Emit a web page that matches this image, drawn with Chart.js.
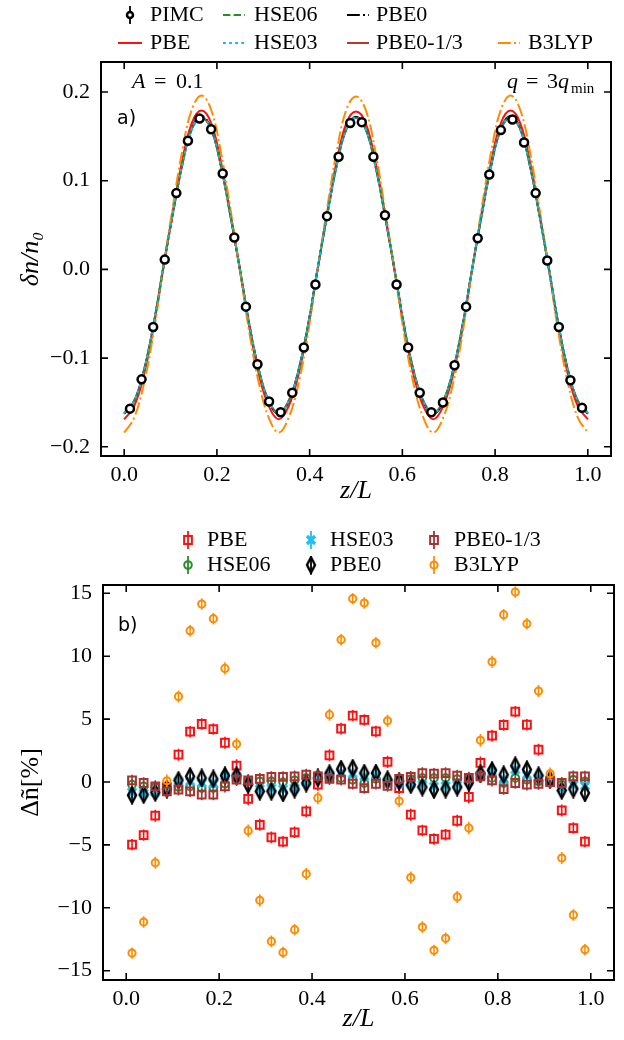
<!DOCTYPE html>
<html>
<head>
<meta charset="utf-8">
<script src="https://cdn.jsdelivr.net/npm/chart.js@4.4.1/dist/chart.umd.min.js"></script>
<style>
  body { margin: 0; background: #fff; }
  #wrap { position: relative; width: 624px; height: 1040px; }
  canvas { position: absolute; left: 0; }
</style>
</head>
<body>
<div id="wrap">
  <canvas id="chartA" width="624" height="512" style="top:0px"></canvas>
  <canvas id="chartB" width="624" height="528" style="top:512px"></canvas>
</div>
<script>
// ---- panel a: density curves, z grid of 1/48 ----
const zGrid = [0, 0.02083, 0.04167, 0.0625, 0.08333, 0.10417, 0.125, 0.14583, 0.16667, 0.1875, 0.20833, 0.22917,
  0.25, 0.27083, 0.29167, 0.3125, 0.33333, 0.35417, 0.375, 0.39583, 0.41667, 0.4375, 0.45833, 0.47917,
  0.5, 0.52083, 0.54167, 0.5625, 0.58333, 0.60417, 0.625, 0.64583, 0.66667, 0.6875, 0.70833, 0.72917,
  0.75, 0.77083, 0.79167, 0.8125, 0.83333, 0.85417, 0.875, 0.89583, 0.91667, 0.9375, 0.95833, 0.97917, 1];

const curvePBE = [-0.169, -0.155, -0.121, -0.068, -0.002, 0.063, 0.122, 0.165, 0.179, 0.165, 0.122, 0.063,
  -0.002, -0.068, -0.121, -0.155, -0.169, -0.155, -0.121, -0.068, -0.002, 0.063, 0.122, 0.165,
  0.178, 0.165, 0.122, 0.063, -0.002, -0.068, -0.121, -0.155, -0.169, -0.155, -0.121, -0.068,
  -0.002, 0.063, 0.122, 0.165, 0.179, 0.165, 0.122, 0.063, -0.002, -0.068, -0.121, -0.155, -0.169];
const curveHSE06 = [-0.162, -0.149, -0.116, -0.065, -0.001, 0.061, 0.117, 0.158, 0.172, 0.158, 0.117, 0.061,
  -0.001, -0.065, -0.116, -0.149, -0.162, -0.149, -0.116, -0.065, -0.001, 0.061, 0.117, 0.158,
  0.171, 0.158, 0.117, 0.061, -0.001, -0.065, -0.116, -0.149, -0.162, -0.149, -0.116, -0.065,
  -0.001, 0.061, 0.117, 0.158, 0.172, 0.158, 0.117, 0.061, -0.001, -0.065, -0.116, -0.149, -0.162];
const curveHSE03 = [-0.162, -0.149, -0.116, -0.065, -0.001, 0.061, 0.117, 0.158, 0.172, 0.158, 0.117, 0.061,
  -0.001, -0.065, -0.116, -0.149, -0.162, -0.149, -0.116, -0.065, -0.001, 0.061, 0.117, 0.158,
  0.171, 0.158, 0.117, 0.061, -0.001, -0.065, -0.116, -0.149, -0.162, -0.149, -0.116, -0.065,
  -0.001, 0.061, 0.117, 0.158, 0.172, 0.158, 0.117, 0.061, -0.001, -0.065, -0.116, -0.149, -0.162];
const curvePBE0 = [-0.163, -0.150, -0.116, -0.065, -0.001, 0.061, 0.118, 0.159, 0.173, 0.159, 0.118, 0.061,
  -0.001, -0.065, -0.116, -0.150, -0.163, -0.150, -0.116, -0.065, -0.001, 0.061, 0.118, 0.159,
  0.172, 0.159, 0.118, 0.061, -0.001, -0.065, -0.116, -0.150, -0.163, -0.150, -0.116, -0.065,
  -0.001, 0.061, 0.118, 0.159, 0.173, 0.159, 0.118, 0.061, -0.001, -0.065, -0.116, -0.150, -0.163];
const curvePBE013 = [-0.162, -0.149, -0.116, -0.065, -0.001, 0.060, 0.117, 0.158, 0.171, 0.158, 0.117, 0.060,
  -0.001, -0.065, -0.116, -0.149, -0.162, -0.149, -0.116, -0.065, -0.001, 0.060, 0.117, 0.158,
  0.171, 0.158, 0.117, 0.060, -0.001, -0.065, -0.116, -0.149, -0.162, -0.149, -0.116, -0.065,
  -0.001, 0.060, 0.117, 0.158, 0.171, 0.158, 0.117, 0.060, -0.001, -0.065, -0.116, -0.149, -0.162];
const curveB3LYP = [-0.184, -0.168, -0.131, -0.074, -0.002, 0.068, 0.133, 0.180, 0.196, 0.180, 0.133, 0.068,
  -0.002, -0.074, -0.131, -0.168, -0.184, -0.168, -0.131, -0.074, -0.002, 0.068, 0.133, 0.180,
  0.195, 0.180, 0.133, 0.068, -0.002, -0.074, -0.131, -0.168, -0.184, -0.168, -0.131, -0.074,
  -0.002, 0.068, 0.133, 0.180, 0.196, 0.180, 0.133, 0.068, -0.002, -0.074, -0.131, -0.168, -0.184];

// ---- PIMC points and deviations, z = bin centres ----
const zBins = [0.0125, 0.0375, 0.0625, 0.0875, 0.1125, 0.1375, 0.1625, 0.1875, 0.2125, 0.2375,
  0.2625, 0.2875, 0.3125, 0.3375, 0.3625, 0.3875, 0.4125, 0.4375, 0.4625, 0.4875,
  0.5125, 0.5375, 0.5625, 0.5875, 0.6125, 0.6375, 0.6625, 0.6875, 0.7125, 0.7375,
  0.7625, 0.7875, 0.8125, 0.8375, 0.8625, 0.8875, 0.9125, 0.9375, 0.9625, 0.9875];

const pimc = [-0.157, -0.124, -0.065, 0.011, 0.086, 0.145, 0.170, 0.158, 0.108, 0.036,
  -0.042, -0.107, -0.149, -0.161, -0.139, -0.088, -0.017, 0.060, 0.127, 0.165,
  0.166, 0.127, 0.061, -0.017, -0.088, -0.139, -0.161, -0.150, -0.108, -0.042,
  0.035, 0.107, 0.157, 0.169, 0.143, 0.086, 0.010, -0.065, -0.125, -0.156];

const devPBE = [-4.98, -4.22, -2.68, -0.40, 2.17, 4.00, 4.61, 4.21, 3.12, 1.30,
  -1.35, -3.40, -4.40, -4.74, -4.00, -2.33, -0.20, 2.12, 4.24, 5.27,
  4.93, 4.02, 1.60, -0.48, -2.60, -3.85, -4.53, -4.19, -3.08, -1.19,
  1.52, 3.68, 4.53, 5.59, 4.55, 2.57, 0.10, -2.26, -3.66, -4.74];
const devHSE06 = [-0.21, -0.35, -0.40, -0.48, -0.40, -0.35, -0.48, -0.48, -0.14, 0.32,
  0.05, 0.05, 0.05, -0.03, 0.13, 0.32, 0.32, 0.32, 0.32, 0.18,
  -0.08, 0.24, -0.08, 0.18, 0.24, 0.32, 0.32, 0.32, 0.24, 0.24,
  0.45, 0.32, -0.08, 0.32, 0.18, 0.05, 0.18, -0.21, 0.18, 0.05];
const devHSE03 = [-0.80, -0.88, -0.80, -0.60, 0.05, 0.05, -0.08, -0.12, 0.45, 0.45,
  0.05, -0.55, -0.48, -0.55, -0.48, 0.00, 0.45, 0.58, 0.71, 0.66,
  0.45, 0.50, -0.08, -0.08, -0.14, -0.21, -0.35, -0.30, -0.21, 0.05,
  0.50, 0.84, 0.18, 0.98, 0.58, 0.32, 0.13, -0.48, -0.21, -0.30];
const devPBE0 = [-1.05, -1.00, -0.83, -0.56, 0.13, 0.45, 0.32, 0.24, 0.50, 0.50,
  -0.20, -0.74, -0.74, -0.87, -0.56, -0.08, 0.32, 0.66, 1.03, 1.10,
  0.71, 0.71, 0.18, 0.05, -0.21, -0.40, -0.61, -0.56, -0.40, -0.03,
  0.66, 0.92, 0.58, 1.30, 0.98, 0.50, 0.18, -0.67, -0.56, -0.87];
const devPBE013 = [0.13, -0.08, -0.35, -0.74, -0.60, -0.74, -1.01, -1.00, -0.35, 0.18,
  0.13, 0.24, 0.40, 0.40, 0.45, 0.58, 0.45, 0.24, 0.18, -0.14,
  -0.48, -0.14, -0.30, 0.24, 0.40, 0.71, 0.66, 0.71, 0.50, 0.32,
  0.45, 0.13, -0.56, -0.08, -0.21, -0.14, 0.00, -0.08, 0.45, 0.45];
const devB3LYP = [-13.60, -11.13, -6.42, 0.10, 6.80, 12.03, 14.15, 12.98, 9.03, 3.02,
  -3.87, -9.41, -12.67, -13.55, -11.74, -7.31, -1.27, 5.35, 11.31, 14.57,
  14.23, 11.07, 4.87, -1.51, -7.60, -11.53, -13.38, -12.43, -9.14, -3.66,
  3.31, 9.56, 13.30, 15.10, 12.58, 7.23, 0.66, -6.04, -10.57, -13.33];
const devErr = [0.45, 0.45, 0.48, 0.50, 0.48, 0.46, 0.45, 0.46, 0.48, 0.50,
  0.50, 0.48, 0.46, 0.45, 0.46, 0.48, 0.50, 0.48, 0.46, 0.45,
  0.45, 0.46, 0.48, 0.50, 0.48, 0.46, 0.45, 0.46, 0.48, 0.50,
  0.50, 0.48, 0.46, 0.45, 0.46, 0.48, 0.50, 0.48, 0.46, 0.45];

// ---- ticks ----
const xTicks = [0, 0.2, 0.4, 0.6, 0.8, 1.0];
const yTicksA = [-0.2, -0.1, 0, 0.1, 0.2];
const yTicksB = [-15, -10, -5, 0, 5, 10, 15];

const SERIF = '"Liberation Serif", "DejaVu Serif", serif';
Chart.defaults.font.family = SERIF;
Chart.defaults.color = '#000';

const pts = (xs, ys) => ys.map((v, i) => ({ x: xs[i], y: v }));
function fmt(v, d) {
  const s = Math.abs(v).toFixed(d);
  return (v < -1e-9 ? '\u2212' : '') + s;
}

// custom marker glyphs
function thinDiamond(color) {
  const c = document.createElement('canvas');
  c.width = 12; c.height = 19;
  const g = c.getContext('2d');
  g.strokeStyle = color; g.lineWidth = 2.4;
  g.beginPath();
  g.moveTo(6, 1.8); g.lineTo(10, 9.5); g.lineTo(6, 17.2); g.lineTo(2, 9.5);
  g.closePath(); g.stroke();
  return c;
}
function filledX(color) {
  const c = document.createElement('canvas');
  c.width = 12; c.height = 12;
  const g = c.getContext('2d');
  g.strokeStyle = color; g.lineWidth = 3.4;
  g.beginPath();
  g.moveTo(2, 2); g.lineTo(10, 10); g.moveTo(10, 2); g.lineTo(2, 10);
  g.stroke();
  return c;
}

// frame with inward ticks on all four sides
const frameTicks = {
  id: 'frameTicks',
  afterDatasetsDraw(chart) {
    const { ctx, chartArea: a, scales: { x, y } } = chart;
    ctx.save();
    ctx.strokeStyle = '#000';
    ctx.lineWidth = 1.6;
    ctx.beginPath();
    x.ticks.forEach(t => {
      const px = x.getPixelForValue(t.value);
      ctx.moveTo(px, a.bottom); ctx.lineTo(px, a.bottom - 7);
      ctx.moveTo(px, a.top); ctx.lineTo(px, a.top + 7);
    });
    y.ticks.forEach(t => {
      const py = y.getPixelForValue(t.value);
      ctx.moveTo(a.left, py); ctx.lineTo(a.left + 7, py);
      ctx.moveTo(a.right, py); ctx.lineTo(a.right - 7, py);
    });
    ctx.stroke();
    ctx.lineWidth = 2;
    ctx.strokeRect(a.left, a.top, a.right - a.left, a.bottom - a.top);
    ctx.restore();
  }
};

// vertical error bars drawn under each dataset's markers
const errorBars = {
  id: 'errorBars',
  beforeDatasetDraw(chart, args) {
    const ds = chart.data.datasets[args.index];
    if (!ds.errors) return;
    const { ctx } = chart;
    const ys = chart.scales.y;
    ctx.save();
    ctx.strokeStyle = ds.borderColor;
    ctx.lineWidth = 1.6;
    ctx.beginPath();
    args.meta.data.forEach((el, i) => {
      const v = ds.data[i].y, e = ds.errors[i];
      ctx.moveTo(el.x, ys.getPixelForValue(v - e));
      ctx.lineTo(el.x, ys.getPixelForValue(v + e));
    });
    ctx.stroke();
    ctx.restore();
  }
};

// column-major legend like the original figure
const colLegend = {
  id: 'colLegend',
  afterDraw(chart, args, opts) {
    const { ctx } = chart;
    ctx.save();
    chart.data.datasets.forEach(ds => {
      const col = opts.cols[ds.slot[0]], y = opts.rows[ds.slot[1]];
      const cx = (col.h0 + col.h1) / 2;
      if (ds.showLine === false) {
        ctx.setLineDash([]);
        ctx.strokeStyle = ds.borderColor;
        ctx.lineWidth = 1.8;
        ctx.beginPath(); ctx.moveTo(cx, y - 9); ctx.lineTo(cx, y + 9); ctx.stroke();
        ctx.fillStyle = ds.pointBackgroundColor;
        ctx.strokeStyle = ds.borderColor;
        ctx.lineWidth = ds.pointBorderWidth;
        Chart.helpers.drawPoint(ctx, {
          pointStyle: ds.pointStyle, radius: ds.legendRadius || ds.pointRadius,
          borderWidth: ds.pointBorderWidth, rotation: 0
        }, cx, y);
      } else {
        ctx.strokeStyle = ds.borderColor;
        ctx.lineWidth = ds.borderWidth;
        ctx.setLineDash(ds.borderDash || []);
        ctx.beginPath(); ctx.moveTo(col.h0, y); ctx.lineTo(col.h1, y); ctx.stroke();
      }
      ctx.setLineDash([]);
      ctx.fillStyle = '#000';
      ctx.font = '22px ' + SERIF;
      ctx.textBaseline = 'middle';
      ctx.textAlign = 'left';
      ctx.fillText(ds.label, col.text, y);
    });
    ctx.restore();
  }
};

// in-plot text notes (mixed italic / upright like mathtext)
const notes = {
  id: 'notes',
  afterDraw(chart, args, opts) {
    const { ctx } = chart;
    ctx.save();
    ctx.fillStyle = '#000';
    ctx.textAlign = 'left';
    (opts.items || []).forEach(it => {
      ctx.font = it.font;
      ctx.textBaseline = it.base || 'alphabetic';
      ctx.fillText(it.t, it.x, it.y);
    });
    ctx.restore();
  }
};

const tickFont = { family: SERIF, size: 22 };
const titleFont = { family: SERIF, size: 26, style: 'italic' };

function axisX(height) {
  return {
    type: 'linear', min: -0.05, max: 1.05,
    grid: { display: false, drawTicks: false }, border: { display: false },
    afterBuildTicks: s => { s.ticks = xTicks.map(v => ({ value: v })); },
    afterFit: s => { s.height = height; },
    ticks: { padding: 6, font: tickFont, maxRotation: 0, autoSkip: false, callback: v => fmt(v, 1) },
    title: { display: true, text: 'z/L', font: titleFont, padding: { top: 0, bottom: 5 } }
  };
}

// ---- panel a ----
let chartA = null;
function renderPanelA() {
  const ctx = document.getElementById('chartA').getContext('2d');
  const line = (label, data, color, dash, order, slot) => ({
    type: 'line', label, data: pts(zGrid, data), borderColor: color, borderWidth: 2,
    borderDash: dash, pointRadius: 0, tension: 0.4, fill: false, order, slot
  });
  chartA = new Chart(ctx, {
    data: {
      datasets: [
        { type: 'line', label: 'PIMC', data: pts(zBins, pimc), showLine: false, borderColor: '#000',
          pointBackgroundColor: '#fff', pointBorderColor: '#000', pointRadius: 4, pointBorderWidth: 2.5,
          legendRadius: 3, pointStyle: 'circle', order: 0, slot: [0, 0] },
        line('PBE', curvePBE, '#ff1010', [], 4, [0, 1]),
        line('HSE06', curveHSE06, '#2a8c2a', [7.4, 3.2], 2, [1, 0]),
        line('HSE03', curveHSE03, '#00bfff', [2.8, 3.3], 1, [1, 1]),
        line('PBE0', curvePBE0, '#000', [12.8, 3.2, 2, 3.2], 6, [2, 0]),
        line('PBE0-1/3', curvePBE013, '#b03a3a', [], 5, [2, 1]),
        line('B3LYP', curveB3LYP, '#ff8c00', [12.8, 3.2, 2, 3.2], 3, [3, 1])
      ]
    },
    options: {
      responsive: false, animation: false, events: [],
      layout: { padding: { left: 0, top: 62, right: 13, bottom: 0 } },
      scales: {
        x: axisX(56),
        y: {
          type: 'linear', min: -0.2104, max: 0.2338,
          grid: { display: false, drawTicks: false }, border: { display: false },
          afterBuildTicks: s => { s.ticks = yTicksA.map(v => ({ value: v })); },
          afterFit: s => { s.width = 101; },
          ticks: { padding: 11, font: tickFont, autoSkip: false, callback: v => fmt(v, 1) },
          title: { display: true, text: '\u03b4n/n\u2080', font: titleFont, padding: { top: 16, bottom: 0 } }
        }
      },
      plugins: {
        legend: { display: false }, tooltip: { enabled: false },
        colLegend: {
          cols: [{ h0: 118, h1: 142, text: 150 }, { h0: 223, h1: 245, text: 254 },
                 { h0: 347, h1: 369, text: 376 }, { h0: 498, h1: 520, text: 528 }],
          rows: [15, 43]
        },
        notes: {
          items: [
            { t: 'A', x: 132, y: 88, font: 'italic 22px ' + SERIF },
            { t: '=', x: 154, y: 88, font: '22px ' + SERIF },
            { t: '0.1', x: 176, y: 88, font: '22px ' + SERIF },
            { t: 'a)', x: 117, y: 119, base: 'middle', font: '19px "DejaVu Sans", sans-serif' },
            { t: 'q', x: 507, y: 88, font: 'italic 22px ' + SERIF },
            { t: '=', x: 526, y: 88, font: '22px ' + SERIF },
            { t: '3', x: 547, y: 88, font: '22px ' + SERIF },
            { t: 'q', x: 558, y: 88, font: 'italic 22px ' + SERIF },
            { t: 'min', x: 571, y: 93, font: '15px ' + SERIF }
          ]
        }
      }
    },
    plugins: [frameTicks, colLegend, notes]
  });
}

// ---- panel b ----
let chartB = null;
function renderPanelB() {
  const ctx = document.getElementById('chartB').getContext('2d');
  const marks = (label, data, color, style, radius, order, slot) => ({
    type: 'line', label, data: pts(zBins, data), errors: devErr, showLine: false,
    borderColor: color, pointBorderColor: color, pointBackgroundColor: 'rgba(0,0,0,0)',
    pointStyle: style, pointRadius: radius, pointBorderWidth: 2, order, slot
  });
  chartB = new Chart(ctx, {
    data: {
      datasets: [
        marks('PBE', devPBE, '#ff1010', 'rect', 5.5, 6, [0, 0]),
        marks('HSE06', devHSE06, '#2a8c2a', 'circle', 3.8, 5, [0, 1]),
        marks('HSE03', devHSE03, '#1ec0f5', filledX('#1ec0f5'), 5, 4, [1, 0]),
        marks('PBE0', devPBE0, '#000', thinDiamond('#000'), 5, 3, [1, 1]),
        marks('PBE0-1/3', devPBE013, '#a83232', 'rect', 5.5, 2, [2, 0]),
        marks('B3LYP', devB3LYP, '#ff8c00', 'circle', 3.6, 1, [2, 1])
      ]
    },
    options: {
      responsive: false, animation: false, events: [],
      layout: { padding: { left: 0, top: 73, right: 10, bottom: 0 } },
      scales: {
        x: axisX(60),
        y: {
          type: 'linear', min: -15.74, max: 15.66,
          grid: { display: false, drawTicks: false }, border: { display: false },
          afterBuildTicks: s => { s.ticks = yTicksB.map(v => ({ value: v })); },
          afterFit: s => { s.width = 103; },
          ticks: { padding: 11, font: tickFont, autoSkip: false, callback: v => fmt(v, 0) },
          title: { display: true, text: '\u0394\u00f1[%]', font: { family: SERIF, size: 26 }, padding: { top: 16, bottom: 0 } }
        }
      },
      plugins: {
        legend: { display: false }, tooltip: { enabled: false },
        colLegend: {
          cols: [{ h0: 178, h1: 198, text: 207 }, { h0: 301, h1: 321, text: 330 }, { h0: 424, h1: 444, text: 454 }],
          rows: [28, 53]
        },
        notes: {
          items: [
            { t: 'b)', x: 118, y: 114, base: 'middle', font: '19px "DejaVu Sans", sans-serif' }
          ]
        }
      }
    },
    plugins: [errorBars, frameTicks, colLegend, notes]
  });
}

renderPanelA();
renderPanelB();
</script>
</body>
</html>
